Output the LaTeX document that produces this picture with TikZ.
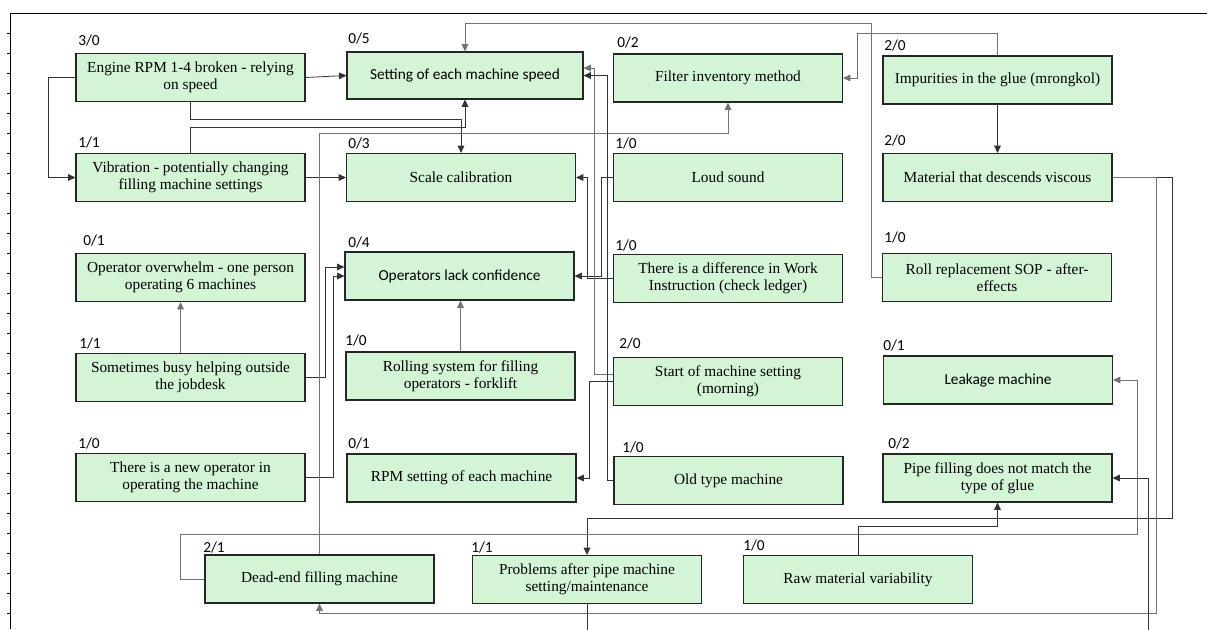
\documentclass[tikz,border=0pt]{standalone}
\usepackage{fontspec}
\setmainfont{Liberation Serif}
\newfontfamily\calfont{Carlito}
\usetikzlibrary{arrows.meta}

\definecolor{boxfill}{RGB}{211,245,214}

\begin{document}
\begin{tikzpicture}[
  x=0.75pt, y=-0.75pt,
  box/.style={draw=black!85, line width=0.8pt, fill=boxfill, minimum width=171.75pt, minimum height=36pt, align=center, inner sep=2pt, font=\fontsize{11.5}{12.5}\selectfont},
  sbox/.style={box, font=\calfont\fontsize{11.5}{12.5}\selectfont},
  cnt/.style={anchor=west, inner sep=0pt, font=\calfont\fontsize{11.5}{12}\selectfont},
  link/.style={-{Triangle[length=5.5pt, width=5pt]}, line width=0.6pt, color=black!80},
  linkg/.style={link, color=black!55},
  frame/.style={line width=0.75pt}
]
\useasboundingbox (0,0) rectangle (1207,629);

% --- page frame ---
\draw[frame] (10,629) -- (10,13) -- (1207,13);
\foreach \ty in {33,53,...,613} \draw[frame] (7,\ty) -- (10,\ty);

% --- row 1 ---
\node[box] (engine) at (190.5,77.5) {Engine RPM 1-4 broken - relying\\on speed};
\node[sbox, minimum width=177pt, minimum height=35.25pt] (setting) at (465,75.5) {Setting of each machine speed};
\node[box] (filter) at (728,78) {Filter inventory method};
\node[box] (impur) at (997.5,80) {Impurities in the glue (mrongkol)};

% --- row 2 ---
\node[box] (vibr) at (190.5,177.5) {Vibration - potentially changing\\filling machine settings};
\node[box] (scale) at (461,177.5) {Scale calibration};
\node[box] (loud) at (728,177.5) {Loud sound};
\node[box] (material) at (997.5,177.5) {Material that descends viscous};

% --- row 3 ---
\node[box] (overwh) at (190.5,277.5) {Operator overwhelm - one person\\operating 6 machines};
\node[sbox] (conf) at (459.5,276) {Operators lack confidence};
\node[box] (diff) at (728,278.5) {There is a difference in Work\\Instruction (check ledger)};
\node[box] (roll) at (997,277.5) {Roll replacement SOP - after-\\effects};

% --- row 4 ---
\node[box] (busy) at (190.5,377.5) {Sometimes busy helping outside\\the jobdesk};
\node[box] (rolling) at (460.5,376) {Rolling system for filling\\operators - forklift};
\node[box] (start) at (728,381.5) {Start of machine setting\\(morning)};
\node[sbox] (leak) at (998,380) {Leakage machine};

% --- row 5 ---
\node[box] (newop) at (190.5,477.5) {There is a new operator in\\operating the machine};
\node[box] (rpm) at (461.5,478) {RPM setting of each machine};
\node[box] (old) at (728.5,480.5) {Old type machine};
\node[box] (pipe) at (997.5,478) {Pipe filling does not match the\\type of glue};

% --- row 6 ---
\node[box] (dead) at (319.5,579) {Dead-end filling machine};
\node[box] (probl) at (587,579.5) {Problems after pipe machine\\setting/maintenance};
\node[box] (raw) at (858,579.5) {Raw material variability};

% --- out/in counts ---
\node[cnt] (c-engine) at (78,40) {3/0};
\node[cnt] (c-setting) at (348,38) {0/5};
\node[cnt] (c-filter) at (617,42) {0/2};
\node[cnt] (c-impur) at (884,45) {2/0};
\node[cnt] (c-vibr) at (78,142) {1/1};
\node[cnt] (c-scale) at (348,143.5) {0/3};
\node[cnt] (c-loud) at (615,143.5) {1/0};
\node[cnt] (c-material) at (884,140) {2/0};
\node[cnt] (c-overwh) at (83,240) {0/1};
\node[cnt] (c-conf) at (348,242) {0/4};
\node[cnt] (c-diff) at (615,245) {1/0};
\node[cnt] (c-roll) at (884,237) {1/0};
\node[cnt] (c-busy) at (79,343) {1/1};
\node[cnt] (c-rolling) at (345,340) {1/0};
\node[cnt] (c-start) at (619,343) {2/0};
\node[cnt] (c-leak) at (883,345) {0/1};
\node[cnt] (c-newop) at (78,443) {1/0};
\node[cnt] (c-rpm) at (348,443) {0/1};
\node[cnt] (c-old) at (622,447) {1/0};
\node[cnt] (c-pipe) at (888,443) {0/2};
\node[cnt] (c-dead) at (203,547) {2/1};
\node[cnt] (c-probl) at (471,547) {1/1};
\node[cnt] (c-raw) at (743,545) {1/0};

% --- links, left side ---
\draw[link] (engine.east) -- (setting.west);
\draw[link] (engine.west) -- ++(-27,0) |- (vibr.west);
\draw[link] (engine.south) -- ++(0,17) -| (scale.north);
\draw[link] (vibr.north) -- ++(0,-26) -| (setting.south);
\draw[link] (vibr.east) -- (scale.west);
\draw[linkg] ([xshift=-7.5pt]busy.north) -- ([xshift=-7.5pt]overwh.south);
\draw[link] (busy.east) -- ++(20,0) |- ([yshift=6.75pt]conf.west);
\draw[link] (newop.east) -- ++(28,0) |- (conf.west);
\draw[linkg] (rolling.north) -- (rolling.north |- conf.south);
\draw[linkg] (dead.north) |- (filter.south |- 0,133) -- (filter.south);

% --- links, middle ---
\draw[link] (loud.west) -- ++(-12,0) |- (conf.east);
\draw[link] (diff.west) -- ++(-26,0) |- (scale.east);
\draw[linkg] ([yshift=5.6pt]start.west) -- ++(-19,0) |- ([yshift=5.6pt]setting.east);
\draw[link] (start.west) -- ++(-24,0) |- (rpm.east);
\draw[link] (old.west) -- ++(-6,0) |- (setting.east);

% --- links, right side ---
\draw[linkg] (roll.west) -- ++(-11,0) |- (setting.north |- 0,23) -- (setting.north);
\draw[linkg] (impur.north) -- ++(0,-22) -- ++(-140,0) |- (filter.east);
\draw[link] (impur.south) -- (material.north);
\draw[link] (material.east) -- ++(60,0) |- (probl.north |- 0,518) -- (probl.north);
\draw[linkg] (material.east) -- ++(44,0) |- (dead.south |- 0,613) -- (dead.south);
\draw[linkg] (dead.west) -- ++(-24,0) -- ++(0,-45) -- ++(957,0) |- (leak.east);
\draw[link] (raw.north) -- ++(0,-29) -| (pipe.south);
\draw[link] (probl.south) -- ++(0,40) -- ++(561,0) |- (pipe.east);

\end{tikzpicture}
\end{document}
